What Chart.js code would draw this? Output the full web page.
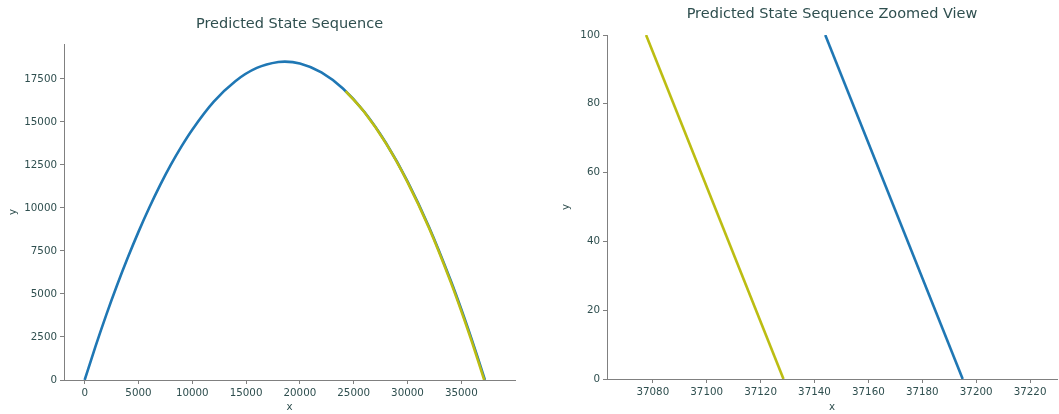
<!DOCTYPE html>
<html>
<head>
<meta charset="utf-8">
<script src="https://cdn.jsdelivr.net/npm/chart.js@4"></script>
<style>
  html, body { margin: 0; padding: 0; background: #fff; }
  body { width: 1059px; height: 414px; position: relative; overflow: hidden; }
  .panel { position: absolute; top: 0; }
</style>
</head>
<body>
<div class="panel" style="left:0px;"><canvas id="full-chart" width="530" height="414"></canvas></div>
<div class="panel" style="left:545px;"><canvas id="zoom-chart" width="514" height="414"></canvas></div>
<script>
// ---- data ----
// true trajectory (blue)
const trueX = [0, 1000, 2000, 3000, 4000, 5000, 6000, 7000, 8000, 9000, 10000, 12000, 14000, 16000,
               18000, 18600, 20000, 22000, 24000, 26000, 28000, 30000, 32000, 34000, 35000, 36000, 36500, 37195];
const trueY = [0, 1940, 3770, 5490, 7100, 8610, 10010, 11310, 12500, 13580, 14550, 16180, 17370, 18140,
               18485, 18505, 18400, 17885, 16945, 15575, 13775, 11550, 8895, 5810, 4110, 2300, 1355, 0];

// predicted state sequence (olive)
const predX = [24250, 26000, 28000, 30000, 32000, 34000, 35000, 36000, 36500, 37128];
const predY = [16790, 15560, 13750, 11505, 8830, 5718, 4004, 2183, 1229, 0];

// zoomed view near the landing point
const zoomTrueX = [37144, 37195];
const zoomTrueY = [100, 0];
const zoomPredX = [37077.5, 37128.5];
const zoomPredY = [100, 0];

// tick labels
const fullXTicks = [0, 5000, 10000, 15000, 20000, 25000, 30000, 35000];
const fullYTicks = [0, 2500, 5000, 7500, 10000, 12500, 15000, 17500];
const zoomXTicks = [37080, 37100, 37120, 37140, 37160, 37180, 37200, 37220];
const zoomYTicks = [0, 20, 40, 60, 80, 100];

const BLUE = '#1f77b4';
const OLIVE = '#bcbd12';
const TEXT = '#2f4f4f';
const SPINE = '#808080';

Chart.defaults.font.family = '"DejaVu Sans", sans-serif';
Chart.defaults.color = TEXT;

function toPoints(xs, ys) {
    return xs.map((x, i) => ({ x: x, y: ys[i] }));
}

function axis(opts) {
    return {
        type: 'linear',
        min: opts.min,
        max: opts.max,
        title: { display: true, text: opts.label, color: TEXT, font: { size: 10.3 }, padding: opts.titlePad },
        grid: { display: true, drawOnChartArea: false, drawTicks: true, tickLength: 4, color: SPINE },
        border: { display: true, color: SPINE, width: 1 },
        ticks: {
            color: TEXT, font: { size: 10.3 }, padding: 3, maxRotation: 0, autoSkip: false,
            callback: (v) => String(v)
        },
        afterBuildTicks: (scale) => { scale.ticks = opts.ticks.map(v => ({ value: v })); },
        afterFit: (scale) => {
            if (opts.width) scale.width = opts.width;
            if (opts.height) scale.height = opts.height;
        }
    };
}

function makeChart(id, cfg) {
    return new Chart(document.getElementById(id).getContext('2d'), {
        type: 'line',
        data: {
            datasets: [
                { data: toPoints(cfg.trueX, cfg.trueY), borderColor: BLUE, borderWidth: 2.6, pointRadius: 0,
                  cubicInterpolationMode: cfg.smooth ? 'monotone' : 'default', tension: 0, order: 1 },
                { data: toPoints(cfg.predX, cfg.predY), borderColor: OLIVE, borderWidth: 2.6, pointRadius: 0,
                  cubicInterpolationMode: cfg.smooth ? 'monotone' : 'default', tension: 0, order: 0 }
            ]
        },
        options: {
            responsive: false,
            animation: false,
            devicePixelRatio: 1,
            layout: { padding: cfg.padding },
            plugins: {
                legend: { display: false },
                tooltip: { enabled: false },
                title: {
                    display: true, text: cfg.title, color: TEXT, fullSize: false,
                    font: { size: 14.5, weight: 'normal' }, padding: cfg.titlePad
                }
            },
            scales: { x: cfg.x, y: cfg.y }
        }
    });
}

makeChart('full-chart', {
    title: 'Predicted State Sequence',
    titlePad: { top: 16, bottom: 10.6 },
    padding: { left: 0, right: 15, top: 0, bottom: 0 },
    trueX: trueX, trueY: trueY, predX: predX, predY: predY, smooth: true,
    x: axis({ min: -1920, max: 39990, label: 'x', ticks: fullXTicks, height: 34, titlePad: { top: 0, bottom: 0 } }),
    y: axis({ min: 0, max: 19530, label: 'y', ticks: fullYTicks, width: 64, titlePad: { top: 7, bottom: 0 } })
});

makeChart('zoom-chart', {
    title: 'Predicted State Sequence Zoomed View',
    titlePad: { top: 6, bottom: 11.6 },
    padding: { left: 0, right: 2, top: 0, bottom: 0 },
    trueX: zoomTrueX, trueY: zoomTrueY, predX: zoomPredX, predY: zoomPredY, smooth: false,
    x: axis({ min: 37063, max: 37230, label: 'x', ticks: zoomXTicks, height: 35, titlePad: { top: 0, bottom: 0 } }),
    y: axis({ min: 0, max: 100, label: 'y', ticks: zoomYTicks, width: 62, titlePad: { top: 15, bottom: 0 } })
});
</script>
</body>
</html>
